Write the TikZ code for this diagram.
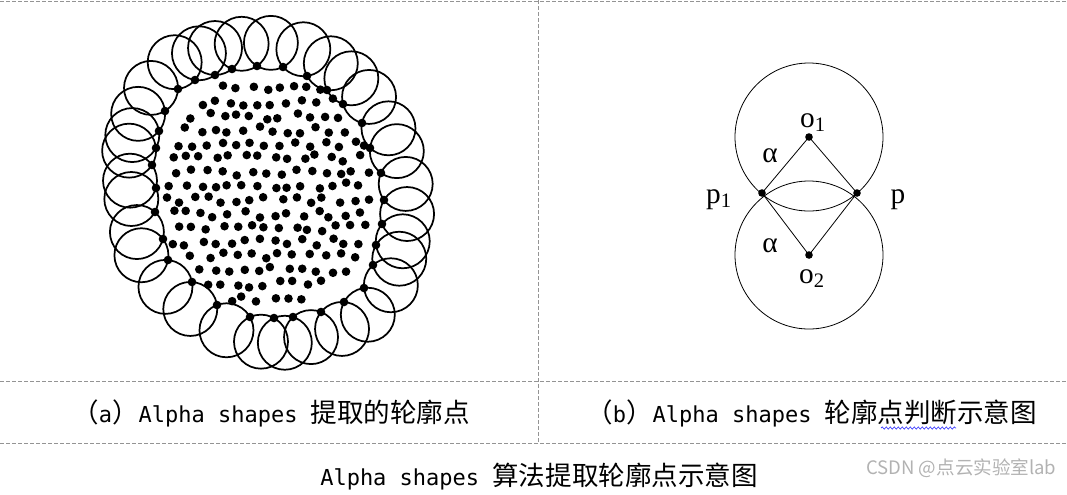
\documentclass[tikz,border=0pt]{standalone}
\usepackage{fontspec}
\setmainfont{Liberation Serif}
\setmonofont{DejaVu Sans Mono}
\newfontfamily\cjkfont{Noto Sans CJK SC}
\usetikzlibrary{decorations.pathmorphing}
\newcommand\zh[1]{{\cjkfont\fontsize{19.9}{24}\selectfont #1}}
\newcommand\lat[1]{{\ttfamily\fontsize{16.5}{20}\selectfont #1}}
% boundary points of the cloud (clockwise)
\def\rimx{{257,283,307,327,343,362,370,381,384,382,376,373,364,344,321,293,274,250,217,192,168,163,155,156,152,156,159,165,178,195,215,232}}
\def\rimy{{66,67,76,90,104,123,148,173,200,224,245,265,288,302,312,317,318,317,305,282,260,239,212,188,165,148,131,111,89,80,75,69}}

\begin{document}
\begin{tikzpicture}[x=0.75pt,y=-0.75pt,
   sep/.style={draw=black!42,line width=0.75pt,dash pattern=on 3pt off 1.5pt},
   rim/.style={line width=1.3pt},
   geo/.style={line width=0.6pt},
   lbl/.style={font=\fontsize{22}{26}\selectfont,inner sep=0pt,anchor=base},
   capt/.style={inner sep=0pt,anchor=base west}]
  \useasboundingbox (0,0) rectangle (1067,494);
  % frame lines
  \draw[sep] (0,1) -- (1067,1);
  \draw[sep] (0,381) -- (1067,381);
  \draw[sep] (0,443) -- (1067,443);
  \draw[sep] (538.5,0) -- (538.5,443);
  % (a) interior points
  \pgfmathsetseed{5}
  \foreach \gx in {0,...,16}{
    \foreach \gy in {0,...,18}{
      \pgfmathsetmacro\px{157+\gx*14.5+7.25*mod(\gy,2)+3.5*rand}
      \pgfmathsetmacro\py{74+\gy*14+3.5*rand}
      \pgfmathtruncatemacro\inside{pow(abs(\px-268)/102,2.4)+pow(abs(\py-192)/114,2.4)<1}
      \ifnum\inside=1 \fill (\px,\py) circle[radius=4.3]; \fi
    }
  }
  % (a) rolling circles through neighbouring boundary points
  \foreach \i in {0,...,31}{
    \pgfmathtruncatemacro\k{mod(\i+1,32)}
    \pgfmathsetmacro\xa{\rimx[\i]}
    \pgfmathsetmacro\ya{\rimy[\i]}
    \pgfmathsetmacro\xb{\rimx[\k]}
    \pgfmathsetmacro\yb{\rimy[\k]}
    \pgfmathsetmacro\len{veclen(\xb-\xa,\yb-\ya)}
    \pgfmathsetmacro\hgt{sqrt(27*27-\len*\len/4)}
    \pgfmathsetmacro\cx{(\xa+\xb)/2+\hgt*(\yb-\ya)/\len}
    \pgfmathsetmacro\cy{(\ya+\yb)/2-\hgt*(\xb-\xa)/\len}
    \draw[rim] (\cx,\cy) circle[radius=27];
  }
  \foreach \i in {0,...,31}{
    \pgfmathsetmacro\xa{\rimx[\i]}
    \pgfmathsetmacro\ya{\rimy[\i]}
    \fill (\xa,\ya) circle[radius=4.3];
  }
  % (b) two circles through p1 and p
  \coordinate (o1) at (809,137);
  \coordinate (o2) at (809,255);
  \coordinate (p1) at (762,193);
  \coordinate (p) at (857,193);
  \draw[geo] (o1) circle[radius=74] (o2) circle[radius=74];
  \draw[geo] (p1) -- (o1) -- (p) -- (o2) -- cycle;
  \foreach \c in {o1,o2,p1,p} \fill (\c) circle[radius=3.8];
  \node[lbl] (lo1) at (813,127) {o\textsubscript{1}};
  \node[lbl] (lo2) at (812,283) {o\textsubscript{2}};
  \node[lbl] (lp1) at (719,203) {p\textsubscript{1}};
  \node[lbl] (lp) at (898,203) {p};
  \node[lbl] (al1) at (770,162) {α};
  \node[lbl] (al2) at (770,252) {α};
  % captions
  \node[capt] (capa) at (72,422) {\zh{（}\lat{a}\zh{）}\lat{Alpha shapes }\zh{提取的轮廓点}};
  \node[capt] (capb) at (586,422) {\zh{（}\lat{b}\zh{）}\lat{Alpha shapes }\zh{轮廓点判断示意图}};
  \draw[blue!80,line width=0.5pt,decorate,decoration={snake,segment length=3pt,amplitude=0.8pt}]
    (881,428) -- (956,428);
  \node[capt] (capall) at (320,485) {\lat{Alpha shapes }\zh{算法提取轮廓点示意图}};
  \node[capt,text=black!30,font=\cjkfont\fontsize{13.9}{16}\selectfont] (mark) at (866,474) {CSDN @点云实验室lab};
\end{tikzpicture}
\end{document}
